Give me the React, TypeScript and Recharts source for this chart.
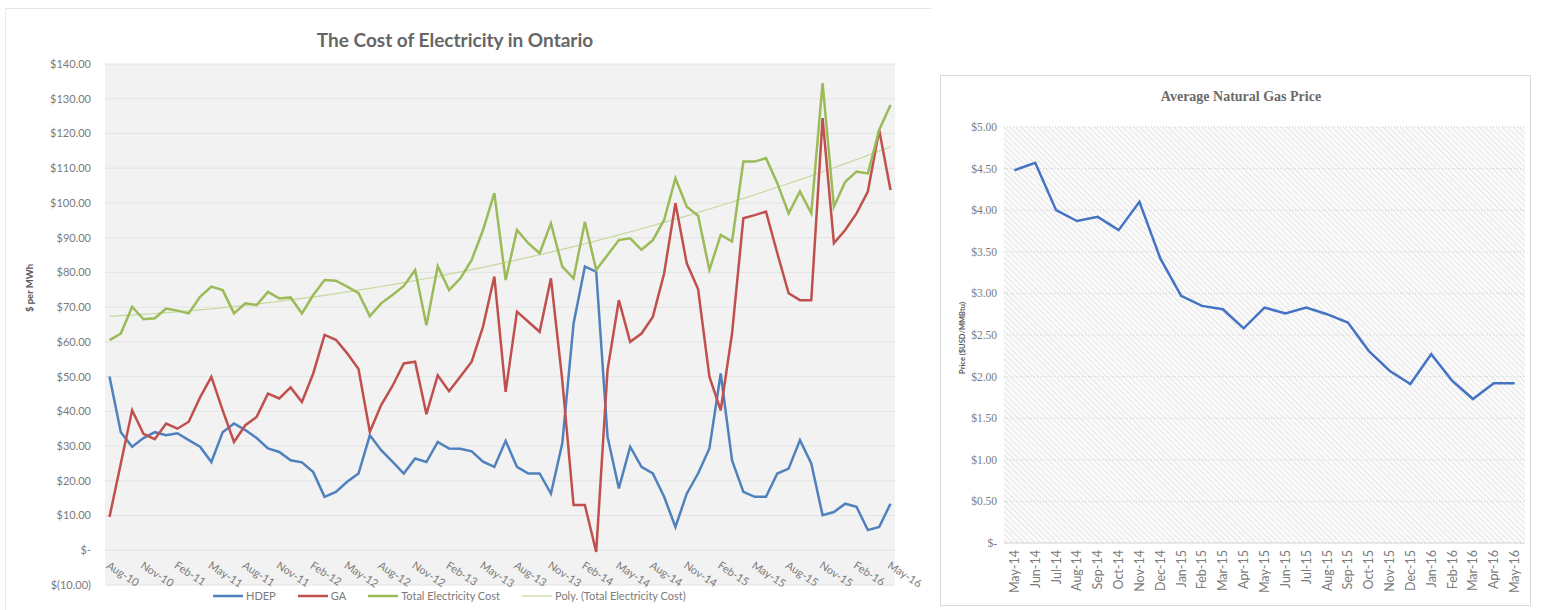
import React from "react";
import { LineChart, Line, XAxis, YAxis, CartesianGrid } from "recharts";

// ---- The Cost of Electricity in Ontario ($ per MWh), Aug-10 .. May-16
const months = [
  "Aug-10", "Sep-10", "Oct-10", "Nov-10", "Dec-10",
  "Jan-11", "Feb-11", "Mar-11", "Apr-11", "May-11", "Jun-11", "Jul-11", "Aug-11", "Sep-11", "Oct-11", "Nov-11", "Dec-11",
  "Jan-12", "Feb-12", "Mar-12", "Apr-12", "May-12", "Jun-12", "Jul-12", "Aug-12", "Sep-12", "Oct-12", "Nov-12", "Dec-12",
  "Jan-13", "Feb-13", "Mar-13", "Apr-13", "May-13", "Jun-13", "Jul-13", "Aug-13", "Sep-13", "Oct-13", "Nov-13", "Dec-13",
  "Jan-14", "Feb-14", "Mar-14", "Apr-14", "May-14", "Jun-14", "Jul-14", "Aug-14", "Sep-14", "Oct-14", "Nov-14", "Dec-14",
  "Jan-15", "Feb-15", "Mar-15", "Apr-15", "May-15", "Jun-15", "Jul-15", "Aug-15", "Sep-15", "Oct-15", "Nov-15", "Dec-15",
  "Jan-16", "Feb-16", "Mar-16", "Apr-16", "May-16",
];

const hdep = [
  50, 34, 29.8, 32.3, 34, 33.1, 33.7, 31.7, 29.8, 25.4,
  34, 36.5, 34.6, 32.3, 29.3, 28.3, 25.9, 25.3, 22.5, 15.4,
  16.8, 19.7, 22.1, 33.1, 28.8, 25.5, 22.1, 26.4, 25.4, 31.2,
  29.3, 29.2, 28.5, 25.5, 24, 31.5, 24, 22.1, 22.1, 16.3,
  30.7, 65.3, 81.7, 80.2, 32.7, 17.8, 29.8, 24, 22.1, 15.4,
  6.7, 16.3, 22.1, 29.3, 50.9, 25.9, 16.8, 15.4, 15.4, 22.1,
  23.5, 31.7, 25, 10.1, 11, 13.4, 12.5, 5.8, 6.7, 13.4,
];

const ga = [
  9.6, 25, 40.3, 33.5, 32, 36.5, 35, 37, 44, 49.9,
  40.3, 31.2, 36, 38.4, 45.1, 43.7, 46.9, 42.7, 50.9, 62,
  60.6, 56.7, 52.2, 34.1, 41.8, 47.3, 53.8, 54.3, 39.2, 50.4,
  45.8, 50, 54.3, 64.4, 78.8, 45.6, 68.7, 65.8, 62.9, 78.3,
  49, 13, 13, -0.5, 51.9, 72, 60, 62.4, 67.2, 79.7,
  99.9, 82.6, 75.2, 50, 40.3, 62.4, 95.6, 96.5, 97.5, 85.5,
  74, 72, 72, 124.4, 88.4, 92.2, 97, 103.3, 121, 103.7,
];

const total = [
  60.5, 62.4, 70.1, 66.5, 66.8, 69.6, 69, 68.2, 73, 75.9,
  74.9, 68.2, 71.1, 70.6, 74.4, 72.5, 72.8, 68.2, 73.5, 77.8,
  77.6, 75.9, 74, 67.4, 71.1, 73.5, 76.1, 80.7, 64.8, 81.8,
  74.9, 78.3, 83.6, 92.2, 102.8, 77.8, 92.2, 88.4, 85.5, 94.1,
  81.7, 78.3, 94.6, 80.7, 85, 89.3, 89.8, 86.5, 89.3, 95.1,
  107.1, 98.9, 96.3, 80.7, 90.8, 88.9, 111.9, 111.9, 112.9, 105.7,
  97, 103.3, 97, 134.5, 98.9, 106.1, 109, 108.5, 121, 128.2,
];

const elecTicks = [-10, 0, 10, 20, 30, 40, 50, 60, 70, 80, 90, 100, 110, 120, 130, 140];

// ---- Average Natural Gas Price ($USD/MMBtu)
const gasMonths = [
  "May-14", "Jun-14", "Jul-14", "Aug-14", "Sep-14", "Oct-14", "Nov-14", "Dec-14",
  "Jan-15", "Feb-15", "Mar-15", "Apr-15", "May-15", "Jun-15", "Jul-15", "Aug-15",
  "Sep-15", "Oct-15", "Nov-15", "Dec-15", "Jan-16", "Feb-16", "Mar-16", "Apr-16", "May-16",
];
const gasPrice = [
  4.48, 4.57, 4.0, 3.87, 3.92, 3.76, 4.1, 3.42,
  2.97, 2.85, 2.81, 2.58, 2.83, 2.76, 2.83, 2.75,
  2.65, 2.31, 2.07, 1.91, 2.27, 1.95, 1.73, 1.92, 1.92,
];
const gasTicks = [0, 0.5, 1, 1.5, 2, 2.5, 3, 3.5, 4, 4.5, 5];

// Excel "Poly." trendline: 2nd order least squares fit of the total series
function quadFit(ys: number[]): number[] {
  const n = ys.length;
  let s1 = 0, s2 = 0, s3 = 0, s4 = 0, t0 = 0, t1 = 0, t2 = 0;
  ys.forEach((y, i) => {
    const x = i / (n - 1);
    s1 += x; s2 += x * x; s3 += x ** 3; s4 += x ** 4;
    t0 += y; t1 += x * y; t2 += x * x * y;
  });
  const det3 = (m: number[][]) =>
    m[0][0] * (m[1][1] * m[2][2] - m[1][2] * m[2][1]) -
    m[0][1] * (m[1][0] * m[2][2] - m[1][2] * m[2][0]) +
    m[0][2] * (m[1][0] * m[2][1] - m[1][1] * m[2][0]);
  const A = [[n, s1, s2], [s1, s2, s3], [s2, s3, s4]];
  const b = [t0, t1, t2];
  const d = det3(A);
  const swap = (k: number) => A.map((row, r) => row.map((v, c) => (c === k ? b[r] : v)));
  const a0 = det3(swap(0)) / d;
  const a1 = det3(swap(1)) / d;
  const a2 = det3(swap(2)) / d;
  return ys.map((_, i) => {
    const x = i / (n - 1);
    return a0 + a1 * x + a2 * x * x;
  });
}

const trend = quadFit(total);

const elecData = months.map((m, i) => ({
  month: m,
  hdep: hdep[i],
  ga: ga[i],
  total: total[i],
  trend: trend[i],
}));

const gasData = gasMonths.map((m, i) => ({ month: m, price: gasPrice[i] }));

const BLUE = "#4f81bd";
const RED = "#c0504d";
const GREEN = "#9bbb59";
const TREND = "#c6d9a0";
const GREY = "#7a7a7a";
const SANS = "Lato, 'Liberation Sans', sans-serif";
const SERIF = "'Liberation Serif', 'DejaVu Serif', serif";

const money = (v: number) =>
  v === 0 ? "$-" : v < 0 ? `$(${Math.abs(v).toFixed(2)})` : `$${v.toFixed(2)}`;

const ElecMonthTick = ({ x, payload }: any) => {
  const tx = x + 1;
  const ty = 560;
  return (
    <text
      x={tx}
      y={ty}
      transform={`rotate(33, ${tx}, ${ty})`}
      fontSize={11}
      fontFamily={SANS}
      fill={GREY}
      dominantBaseline="hanging"
    >
      {payload.value}
    </text>
  );
};

const GasMonthTick = ({ x, payload }: any) => {
  const ty = 474;
  return (
    <text
      x={x}
      y={ty}
      transform={`rotate(-90, ${x}, ${ty})`}
      textAnchor="end"
      dominantBaseline="central"
      fontSize={12.5}
      fontFamily={SANS}
      fill={GREY}
    >
      {payload.value}
    </text>
  );
};

const legendItems = [
  { name: "HDEP", color: BLUE, width: 2.5 },
  { name: "GA", color: RED, width: 2.5 },
  { name: "Total Electricity Cost", color: GREEN, width: 2.5 },
  { name: "Poly. (Total Electricity Cost)", color: TREND, width: 1.2 },
];

const ElecLegend = () => (
  <div
    style={{
      position: "absolute",
      left: 213,
      top: 589,
      display: "flex",
      alignItems: "center",
      gap: 22,
      fontFamily: SANS,
      fontSize: 11,
      color: GREY,
      whiteSpace: "nowrap",
    }}
  >
    {legendItems.map((it) => (
      <div key={it.name} style={{ display: "flex", alignItems: "center", gap: 3 }}>
        <svg width={30} height={8}>
          <line x1={0} y1={4} x2={30} y2={4} stroke={it.color} strokeWidth={it.width} />
        </svg>
        <span>{it.name}</span>
      </div>
    ))}
  </div>
);

export default function App() {
  return (
    <div
      style={{
        position: "absolute",
        left: 0,
        top: 0,
        width: 1544,
        height: 610,
        background: "#fff",
        overflow: "hidden",
      }}
    >
      {/* left chart frame */}
      <div
        style={{
          position: "absolute",
          left: 5,
          top: 8,
          width: 925,
          height: 610,
          borderTop: "1px solid #e4e4e4",
          borderLeft: "1px solid #ececec",
        }}
      />
      <div
        style={{
          position: "absolute",
          left: 0,
          top: 28,
          width: 910,
          textAlign: "center",
          fontFamily: SANS,
          fontWeight: 700,
          fontSize: 19,
          color: "#666666",
        }}
      >
        The Cost of Electricity in Ontario
      </div>
      <div
        style={{
          position: "absolute",
          left: 29,
          top: 288,
          transform: "translate(-50%, -50%) rotate(-90deg)",
          fontFamily: SANS,
          fontWeight: 700,
          fontSize: 9.5,
          color: "#595959",
          whiteSpace: "nowrap",
        }}
      >
        $ per MWh
      </div>
      <div style={{ position: "absolute", left: 0, top: 0 }}>
        <LineChart
          width={930}
          height={610}
          data={elecData}
          margin={{ top: 64, right: 35, left: 8, bottom: 24 }}
        >
          <CartesianGrid vertical={false} stroke="#e3e3e3" fill="#f2f2f2" />
          <XAxis
            dataKey="month"
            interval={2}
            height={1}
            axisLine={false}
            tickLine={false}
            padding={{ left: 4.5, right: 4.5 }}
            tick={<ElecMonthTick />}
          />
          <YAxis
            width={97}
            domain={[-10, 140]}
            ticks={elecTicks}
            interval={0}
            tickFormatter={money}
            axisLine={false}
            tickLine={false}
            tickSize={0}
            tickMargin={14}
            tick={{ fill: GREY, fontSize: 11, fontFamily: SANS }}
          />
          <Line type="linear" dataKey="trend" stroke={TREND} strokeWidth={1.2} dot={false} isAnimationActive={false} />
          <Line type="linear" dataKey="hdep" stroke={BLUE} strokeWidth={2.5} dot={false} isAnimationActive={false} />
          <Line type="linear" dataKey="ga" stroke={RED} strokeWidth={2.5} dot={false} isAnimationActive={false} />
          <Line type="linear" dataKey="total" stroke={GREEN} strokeWidth={2.5} dot={false} isAnimationActive={false} />
        </LineChart>
      </div>
      <ElecLegend />

      {/* right chart */}
      <div
        style={{
          position: "absolute",
          left: 940,
          top: 75,
          width: 591,
          height: 531,
          border: "1px solid #d9d9d9",
          boxSizing: "border-box",
          background: "#fff",
        }}
      >
        <div
          style={{
            position: "absolute",
            left: 0,
            top: 13,
            width: 600,
            textAlign: "center",
            fontFamily: SERIF,
            fontWeight: 700,
            fontSize: 14,
            color: "#6a6a6a",
          }}
        >
          Average Natural Gas Price
        </div>
        <div
          style={{
            position: "absolute",
            left: 21,
            top: 262,
            transform: "translate(-50%, -50%) rotate(-90deg)",
            fontFamily: SANS,
            fontWeight: 700,
            fontSize: 7.5,
            color: "#595959",
            whiteSpace: "nowrap",
          }}
        >
          Price ($USD/MMBtu)
        </div>
        <LineChart
          width={589}
          height={529}
          data={gasData}
          margin={{ top: 51, right: 5, left: 8, bottom: 4 }}
        >
          <defs>
            <pattern id="gasHatch" width={4} height={4} patternUnits="userSpaceOnUse" patternTransform="rotate(-45)">
              <rect width={4} height={4} fill="#fbfbfb" />
              <line x1={0} y1={0} x2={0} y2={4} stroke="#d6d6d6" strokeWidth={1.2} />
            </pattern>
          </defs>
          <CartesianGrid vertical={false} stroke="#cfcfcf" strokeDasharray="1 2" fill="url(#gasHatch)" />
          <XAxis
            dataKey="month"
            interval={0}
            height={58}
            axisLine={{ stroke: "#d9d9d9" }}
            tickLine={false}
            padding={{ left: 10.4, right: 10.4 }}
            tick={<GasMonthTick />}
          />
          <YAxis
            width={55}
            domain={[0, 5]}
            ticks={gasTicks}
            interval={0}
            tickFormatter={money}
            axisLine={false}
            tickLine={false}
            tickSize={0}
            tickMargin={7}
            tick={{ fill: GREY, fontSize: 11.5, fontFamily: SERIF }}
          />
          <Line type="linear" dataKey="price" stroke="#4472c4" strokeWidth={2.5} dot={false} isAnimationActive={false} />
        </LineChart>
      </div>
    </div>
  );
}
